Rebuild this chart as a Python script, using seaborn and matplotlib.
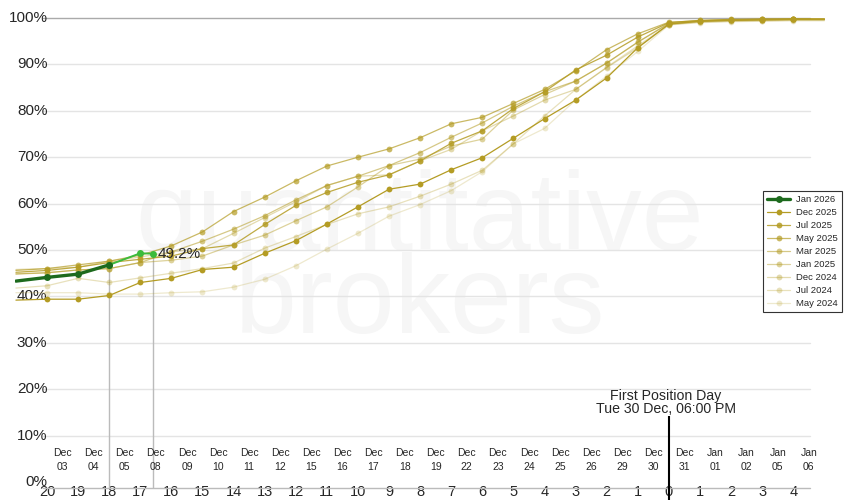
import matplotlib
matplotlib.use("Agg")
import matplotlib.pyplot as plt
import matplotlib.transforms as mtransforms
import seaborn as sns

sns.set_style("white")
plt.rcParams["font.family"] = ["Liberation Sans", "DejaVu Sans"]

# days before first position day (negative = after)
days = [21, 20, 19, 18, 17, 16, 15, 14, 13, 12, 11, 10, 9, 8, 7, 6, 5, 4, 3, 2, 1, 0, -1, -2, -3, -4, -5]

dec_2025 = [39.2, 39.4, 39.4, 40.2, 43.0, 43.9, 45.8, 46.3, 49.3, 52.0, 55.6, 59.3, 63.1, 64.2, 67.3, 69.9,
            74.1, 78.3, 82.3, 87.1, 93.6, 98.7, 99.3, 99.5, 99.6, 99.7, 99.7]
jul_2025 = [45.2, 45.6, 46.3, 47.3, 48.0, 48.7, 50.3, 51.1, 55.5, 59.6, 62.4, 64.6, 66.2, 69.2, 73.0, 75.7,
            80.5, 84.1, 88.8, 92.0, 95.9, 99.0, 99.5, 99.7, 99.8, 99.8, 99.8]
may_2025 = [45.6, 46.0, 46.8, 47.6, 48.9, 50.9, 53.9, 58.3, 61.4, 64.9, 68.1, 70.0, 71.8, 74.2, 77.2, 78.6,
            81.6, 84.6, 88.6, 93.2, 96.6, 99.1, 99.4, 99.6, 99.7, 99.8, 99.8]
mar_2025 = [44.8, 45.1, 45.7, 46.0, 47.3, 49.6, 51.9, 54.5, 57.4, 60.8, 63.9, 65.9, 68.2, 71.0, 74.3, 77.4,
            81.0, 84.1, 86.4, 90.3, 94.8, 98.8, 99.3, 99.5, 99.6, 99.7, 99.7]
jan_2025 = [44.9, 45.1, 45.7, 46.0, 47.3, 47.8, 48.7, 51.1, 53.2, 56.3, 59.3, 63.6, 68.2, 69.6, 72.4, 73.9,
            80.2, 83.5, 86.4, 90.3, 94.8, 98.9, 99.4, 99.6, 99.7, 99.8, 99.8]
dec_2024 = [45.8, 46.0, 46.3, 47.6, 48.5, 49.6, 50.3, 53.6, 57.0, 60.4, 63.9, 65.9, 66.2, 69.2, 71.7, 75.7,
            78.9, 82.3, 84.6, 89.3, 93.6, 98.6, 99.2, 99.4, 99.5, 99.6, 99.6]
jul_2024 = [41.8, 42.3, 43.9, 43.0, 44.0, 45.0, 46.0, 47.2, 50.4, 52.9, 55.5, 57.8, 59.3, 61.6, 64.2, 67.2,
            72.9, 78.9, 84.6, 89.4, 94.0, 98.6, 99.1, 99.3, 99.4, 99.5, 99.5]
may_2024 = [40.8, 40.8, 40.8, 40.5, 40.5, 40.8, 41.0, 42.0, 43.7, 46.6, 50.2, 53.6, 57.3, 59.8, 62.8, 66.9,
            72.9, 76.2, 82.3, 87.5, 92.8, 98.5, 99.0, 99.2, 99.3, 99.4, 99.4]

jan_2026_days = [21, 20, 19, 18]
jan_2026 = [43.3, 44.1, 44.8, 46.8]
jan_2026_live_days = [18, 17, 16.59]
jan_2026_live = [46.8, 49.3, 49.2]

gold_names = ["Dec 2025", "Jul 2025", "May 2025", "Mar 2025", "Jan 2025", "Dec 2024", "Jul 2024", "May 2024"]
gold_series = [dec_2025, jul_2025, may_2025, mar_2025, jan_2025, dec_2024, jul_2024, may_2024]
gold_alpha = [1.0, 0.85, 0.7, 0.55, 0.45, 0.37, 0.3, 0.22]

tick_days = list(range(20, -5, -1))
date_labels = ["Dec\n03", "Dec\n04", "Dec\n05", "Dec\n08", "Dec\n09", "Dec\n10", "Dec\n11", "Dec\n12",
               "Dec\n15", "Dec\n16", "Dec\n17", "Dec\n18", "Dec\n19", "Dec\n22", "Dec\n23", "Dec\n24",
               "Dec\n25", "Dec\n26", "Dec\n29", "Dec\n30", "Dec\n31", "Jan\n01", "Jan\n02", "Jan\n05", "Jan\n06"]
y_ticks = [0, 10, 20, 30, 40, 50, 60, 70, 80, 90, 100]

gold = "#b49c24"
dark_green = "#1d6a1d"
light_green = "#3cbb3c"

fig = plt.figure(figsize=(8.5, 5), dpi=100)
ax = fig.add_axes([15 / 850, 12 / 500, 810 / 850, 475 / 500])
ax.set_xlim(21.03, -5.02)
ax.set_ylim(-1.29, 101.08)

# watermark, behind everything
ax.text(0.494, 0.50, "quantitative", transform=fig.transFigure, fontsize=80, color="#f6f6f6",
        ha="center", va="baseline", zorder=0)
ax.text(0.494, 0.334, "brokers", transform=fig.transFigure, fontsize=80, color="#f6f6f6",
        ha="center", va="baseline", zorder=0)

# grid
for v in y_ticks[1:]:
    ax.axhline(v, xmin=0.0346, xmax=0.981, color="#aaaaaa" if v == 100 else "#e4e4e4", lw=1, zorder=1)
ax.plot([0.0346, 0.981], [0, 0], transform=ax.transAxes, color="#bbbbbb", lw=1, clip_on=False, zorder=1)

ytrans = mtransforms.blended_transform_factory(ax.transAxes, ax.transData)
for v in y_ticks:
    ax.text(0.040, v, f"{v}%", transform=ytrans, ha="right", va="center", fontsize=11, zorder=2)

# edge points sit on the plot border, so no markers there
for name, vals, a in zip(gold_names, gold_series, gold_alpha):
    sns.lineplot(x=days, y=vals, ax=ax, color=gold, alpha=a, lw=0.9, marker="o", markersize=4.2,
                 markeredgewidth=0, markevery=slice(1, -1), sort=False, estimator=None,
                 label=name, zorder=3)

sns.lineplot(x=jan_2026_live_days, y=jan_2026_live, ax=ax, color=light_green, lw=1.4, marker="o",
             markersize=5, markeredgewidth=0, sort=False, estimator=None, zorder=5)
sns.lineplot(x=jan_2026_days, y=jan_2026, ax=ax, color=dark_green, lw=2.4, marker="o", markersize=5,
             markeredgewidth=0, markevery=slice(1, None), sort=False, estimator=None,
             label="Jan 2026", zorder=6)

ax.text(jan_2026_live_days[-1] - 0.15, jan_2026_live[-1], f"{jan_2026_live[-1]}%", fontsize=11,
        ha="left", va="center", zorder=7)

# markers down to the axis
ax.vlines([jan_2026_days[-1], jan_2026_live_days[-1]], -1.29, [jan_2026[-1], jan_2026_live[-1]],
          color="#bbbbbb", lw=1, zorder=2)

# first position day
ax.vlines(0, -3.9, 14.2, color="black", lw=1.5, clip_on=False, zorder=4)
ax.text(0.1, 18.5, "First Position Day", ha="center", va="center", fontsize=10.2)
ax.text(0.1, 15.7, "Tue 30 Dec, 06:00 PM", ha="center", va="center", fontsize=10.2)

for d, lab in zip(tick_days, date_labels):
    ax.text(d - 0.5, 4.7, lab, ha="center", va="center", fontsize=7.5, linespacing=1.45)

ax.set_xticks(tick_days)
ax.set_xticklabels([str(abs(d)) for d in tick_days], fontsize=10.5)
ax.set_yticks([])
ax.tick_params(axis="x", length=0, pad=-2.5)
ax.set_xlabel("")
ax.set_ylabel("")
for s in ax.spines.values():
    s.set_visible(False)

handles, labels = ax.get_legend_handles_labels()
order = ["Jan 2026"] + gold_names
hmap = dict(zip(labels, handles))
leg = ax.legend([hmap[k] for k in order], order, loc="center left", bbox_to_anchor=(763 / 850, 0.497),
                bbox_transform=fig.transFigure, fontsize=6.8, frameon=True, fancybox=False,
                edgecolor="#333333", framealpha=1, borderpad=0.45, labelspacing=0.42,
                handlelength=2.4, handletextpad=0.6, borderaxespad=0)
leg.get_frame().set_linewidth(0.8)

fig.savefig("out.png", dpi=100)
